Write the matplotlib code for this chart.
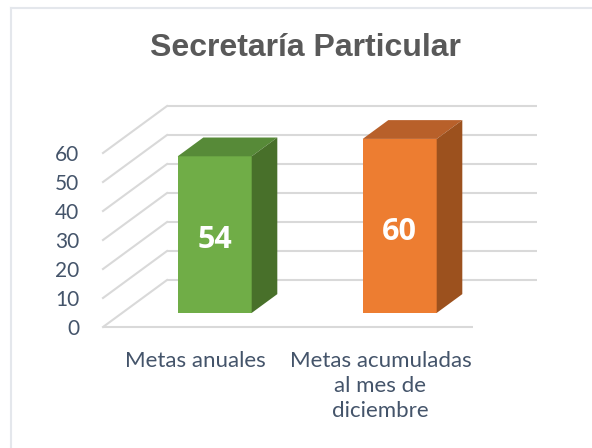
import numpy as np
import matplotlib
matplotlib.use('Agg')
import matplotlib.pyplot as plt
from matplotlib.patches import Polygon
from matplotlib.lines import Line2D

### Data
categories = ['Metas anuales', 'Metas acumuladas\nal mes de\ndiciembre']
values = [54, 60]
yticks = [0, 10, 20, 30, 40, 50, 60]
title = 'Secretaría Particular'

### Colours (front, top, side)
front_cols = ['#70AD47', '#ED7D31']
top_cols = ['#578A38', '#B8602A']
side_cols = ['#48702A', '#9C511E']
grid_col = '#D9D9D9'
text_col = '#44546A'

### 3D look: depth offset of the back wall, in data units
depth_dx = 0.346     # category units
depth_dy = 16.2      # value units
bar_d0, bar_d1 = 0.3, 0.7
bar_w = 0.4

fig = plt.figure(figsize=(5.92, 4.48), dpi=100)
fig.patch.set_facecolor('white')

# light frame (only top and left edges visible)
fig.add_artist(Line2D([11/592, 11/592], [0, 1-8/448], color='#E4E7EC', lw=1.5))
fig.add_artist(Line2D([11/592, 1], [1-8/448, 1-8/448], color='#E4E7EC', lw=1.5))

ax = fig.add_axes([103/592, 121/448, 370/592, 174/448])
ax.set_xlim(-0.5, 1.5)
ax.set_ylim(0, 60)
for s in ax.spines.values():
    s.set_visible(False)
ax.patch.set_alpha(0)

### Gridlines: back wall + side wall diagonals
for v in yticks:
    ax.plot([-0.5 + depth_dx, 1.5 + depth_dx], [v + depth_dy, v + depth_dy],
            color=grid_col, lw=1.5, zorder=1, clip_on=False, solid_capstyle='butt')
    ax.plot([-0.5, -0.5 + depth_dx], [v, v + depth_dy],
            color=grid_col, lw=1.5, zorder=1, clip_on=False)
# front baseline
ax.plot([-0.5, 1.5], [0, 0], color=grid_col, lw=1.5, zorder=2, clip_on=False,
        solid_capstyle='butt')

### Bars
x = np.arange(len(values))
fx = bar_d0 * depth_dx
fy = bar_d0 * depth_dy
ddx = (bar_d1 - bar_d0) * depth_dx
ddy = (bar_d1 - bar_d0) * depth_dy
ax.bar(x + fx, values, width=bar_w, bottom=fy, color=front_cols, zorder=4,
       clip_on=False)
for i, v in enumerate(values):
    xl = x[i] + fx - bar_w / 2
    xr = x[i] + fx + bar_w / 2
    top = Polygon([(xl, v + fy), (xr, v + fy), (xr + ddx, v + fy + ddy),
                   (xl + ddx, v + fy + ddy)], closed=True,
                  facecolor=top_cols[i], edgecolor='none', zorder=4, clip_on=False)
    side = Polygon([(xr, fy), (xr, v + fy), (xr + ddx, v + fy + ddy),
                    (xr + ddx, fy + ddy)], closed=True,
                   facecolor=side_cols[i], edgecolor='none', zorder=4, clip_on=False)
    ax.add_patch(top)
    ax.add_patch(side)
    ax.text(x[i] + fx, fy + v / 2 - 2, str(v), color='white', fontsize=22,
            fontweight='bold', family='Open Sans', ha='center', va='center', zorder=5)

### Axis labels
ax.set_yticks(yticks)
ax.set_yticklabels([str(t) for t in yticks], fontsize=15, color=text_col,
                   family='Lato')
ax.set_xticks(x)
ax.set_xticklabels(categories, fontsize=16, color=text_col, family='Lato',
                   linespacing=1.32, va='top')
ax.tick_params(axis='y', length=0, pad=17)
ax.tick_params(axis='x', length=0, pad=17)

fig.text(305/592, 1 - 48/448, title, fontsize=23, fontweight='bold',
         color='#595959', family='Liberation Sans', ha='center', va='center')

plt.savefig('out.png', dpi=100, facecolor='white')
